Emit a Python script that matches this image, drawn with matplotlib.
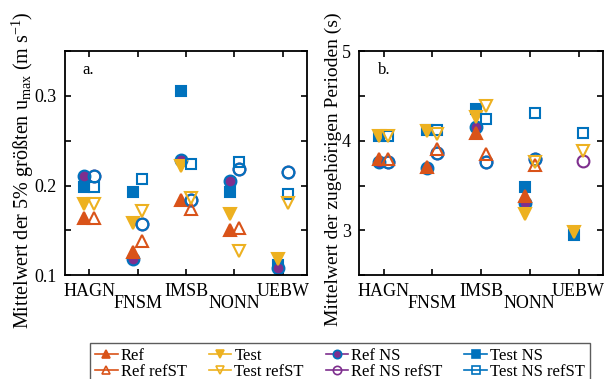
import numpy as np
import matplotlib
matplotlib.use("Agg")
import matplotlib.pyplot as plt
from matplotlib.lines import Line2D

plt.rcParams["font.family"] = ["Liberation Serif", "DejaVu Serif"]
plt.rcParams["mathtext.fontset"] = "custom"
plt.rcParams["mathtext.rm"] = "Liberation Serif"
plt.rcParams["mathtext.it"] = "Liberation Serif:italic"

nan = np.nan
stations = ["HAGN", "FNSM", "IMSB", "NONN", "UEBW"]

# panel a: mean of 5% largest u_max
ref_a = [0.164, 0.126, 0.1835, 0.1505, nan]
test_a = [0.179, 0.158, 0.222, 0.1685, 0.1175]
refns_a = [0.211, 0.1175, 0.229, 0.205, 0.1075]
testns_a = [0.198, 0.193, 0.306, 0.1925, 0.111]
ref_st_a = [0.164, 0.138, 0.174, 0.153, nan]
test_st_a = [0.179, 0.172, 0.186, 0.127, 0.181]
refns_st_a = [0.211, 0.157, 0.184, 0.218, 0.215]
testns_st_a = [0.198, 0.207, 0.224, 0.226, 0.191]
circ_st_a = [0.211, 0.157, 0.184, 0.218, 0.215]

# panel b: associated periods
ref_b = [3.80, 3.71, 4.086, 3.385, nan]
test_b = [4.056, 4.11, 4.26, 3.18, 2.98]
refns_b = [3.765, 3.70, 4.15, 3.30, nan]
testns_b = [4.05, 4.12, 4.354, 3.48, 2.946]
ref_st_b = [3.80, 3.907, 3.85, 3.73, nan]
test_st_b = [4.056, 4.075, 4.384, 3.765, 3.89]
refns_st_b = [3.765, 3.86, 3.765, 3.795, 3.777]
testns_st_b = [4.05, 4.12, 4.242, 4.31, 4.086]
circ_st_b = [3.765, 3.86, 3.765, 3.795, nan]

c_ref = "#D95319"
c_test = "#EDB120"
c_refns = "#7E2F8E"
c_testns = "#0072BD"

x = np.arange(1, 6)
xf = x - 0.1
xo = x + 0.1
ms = 8.5
ms_sq = 7.3
mew = 1.5

fig = plt.figure(figsize=(6.14, 3.79), dpi=100)
ax1 = fig.add_axes([0.106, 0.274, 0.394, 0.591])
ax2 = fig.add_axes([0.585, 0.274, 0.397, 0.591])


def draw(ax, ref, test, refns, testns, ref_st, test_st, refns_st, testns_st, circ_st):
    h = {}
    kw = dict(ls="none", mew=mew)
    h["Test NS"], = ax.plot(xf, testns, marker="s", ms=ms_sq, color=c_testns, mfc=c_testns, mec=c_testns, **kw)
    h["Ref NS"], = ax.plot(xf, refns, marker="o", ms=ms, color=c_refns, mfc=c_refns, mec=c_testns, **kw)
    h["Ref"], = ax.plot(xf, ref, marker="^", ms=ms, color=c_ref, mfc=c_ref, mec=c_ref, **kw)
    h["Test"], = ax.plot(xf, test, marker="v", ms=ms, color=c_test, mfc=c_test, mec=c_test, **kw)
    h["Ref NS refST"], = ax.plot(xo, refns_st, marker="o", ms=ms, color=c_refns, mfc="none", mec=c_refns, **kw)
    ax.plot(xo, circ_st, marker="o", ms=ms, mfc="none", mec=c_testns, **kw)
    h["Test NS refST"], = ax.plot(xo, testns_st, marker="s", ms=ms_sq, color=c_testns, mfc="none", mec=c_testns, **kw)
    h["Ref refST"], = ax.plot(xo, ref_st, marker="^", ms=ms, color=c_ref, mfc="none", mec=c_ref, **kw)
    h["Test refST"], = ax.plot(xo, test_st, marker="v", ms=ms, color=c_test, mfc="none", mec=c_test, **kw)
    ax.set_xlim(0.5, 5.5)
    ax.set_xticks(x)
    ax.set_xticklabels(stations)
    ax.tick_params(direction="in", top=True, right=True, labelsize=13, length=4, width=1.2, pad=6)
    for t in ax.xaxis.get_major_ticks()[1::2]:
        t.set_pad(14.5)
    for s in ax.spines.values():
        s.set_linewidth(1.3)
    return h


h = draw(ax1, ref_a, test_a, refns_a, testns_a, ref_st_a, test_st_a, refns_st_a, testns_st_a, circ_st_a)
ax1.set_ylim(0.1, 0.35)
ax1.set_yticks(np.arange(0.1, 0.351, 0.05))
ax1.set_yticklabels(["0.1", "", "0.2", "", "0.3", ""])
ax1.set_ylabel(r"Mittelwert der 5% größten u$_{\rm max}$ (m s$^{-1}$)", fontsize=14.5)
ax1.yaxis.set_label_coords(-0.12, 0.47)
ax1.text(0.07, 0.915, "a.", transform=ax1.transAxes, fontsize=12, va="center")

draw(ax2, ref_b, test_b, refns_b, testns_b, ref_st_b, test_st_b, refns_st_b, testns_st_b, circ_st_b)
ax2.set_ylim(2.5, 5)
ax2.set_yticks(np.arange(2.5, 5.01, 0.5))
ax2.set_yticklabels(["", "3", "", "4", "", "5"])
ax2.set_ylabel("Mittelwert der zugehörigen Perioden (s)", fontsize=14)
ax2.yaxis.set_label_coords(-0.07, 0.475)
ax2.text(0.078, 0.915, "b.", transform=ax2.transAxes, fontsize=12, va="center")

order = ["Ref", "Ref refST", "Test", "Test refST", "Ref NS", "Ref NS refST", "Test NS", "Test NS refST"]
handles = []
for k in order:
    src = h[k]
    handles.append(Line2D([], [], color=src.get_color(), marker=src.get_marker(),
                          mfc=src.get_markerfacecolor(), mec=src.get_markeredgecolor(),
                          ms=6, mew=1.2, lw=1.2))
leg = fig.legend(handles, order, loc="upper left", bbox_to_anchor=(90 / 614, 1 - 343 / 379),
                 ncol=4, fontsize=12, frameon=True, fancybox=False,
                 edgecolor="#333333", handlelength=1.35, handletextpad=0.2, labelspacing=0.0,
                 borderpad=0.3, columnspacing=1.3, borderaxespad=0)
leg.get_frame().set_linewidth(1.0)

fig.savefig("out.png", dpi=100)
